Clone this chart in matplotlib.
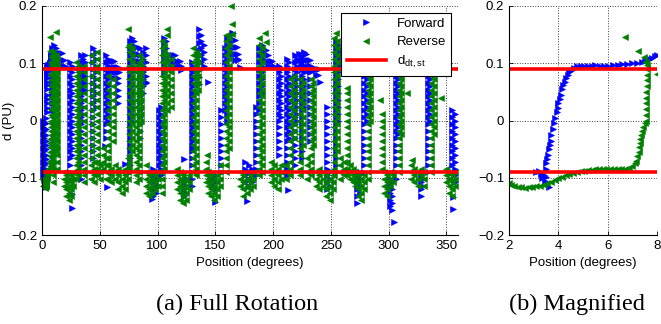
import matplotlib.pyplot as plt

# Forward sweep (blue): vertical runs of samples, (position, [d values])
fwd_cols = [
    (0.6, [0.0, -0.012, -0.024, -0.036, -0.048, -0.06, -0.072, -0.084, -0.096]),
    (1.8, [-0.006, -0.018, -0.03, -0.042, -0.054, -0.066, -0.078, -0.09, -0.102]),
    (8.8, [0.126, 0.114, 0.102, 0.09, 0.078, 0.066, 0.054, 0.042, 0.03, 0.018]),
    (10.3, [0.132, 0.12, 0.108, 0.096, 0.084, 0.072, 0.06, 0.048, 0.036, 0.024, 0.012]),
    (11.8, [0.126, 0.114, 0.102, 0.09, 0.078, 0.066]),
    (24.5, [0.102, 0.09, 0.078, 0.066, 0.054, 0.042, 0.03, 0.018, 0.006, -0.006, -0.018, -0.03, -0.042, -0.054, -0.066, -0.078, -0.09]),
    (26.0, [0.096, 0.084, 0.072, 0.06, 0.048, 0.036, 0.024, 0.012, 0.0, -0.012, -0.024, -0.036, -0.048, -0.06]),
    (34.0, [0.114, 0.102, 0.09, 0.078, 0.066, 0.054, 0.042, 0.03, 0.018, 0.006, -0.006, -0.018, -0.03, -0.042, -0.054, -0.066, -0.078, -0.09, -0.102]),
    (35.5, [0.108, 0.096, 0.084, 0.072, 0.06, 0.048, 0.036, 0.024, 0.012, 0.0]),
    (37.5, [0.114, 0.102, 0.09, 0.078, 0.066, 0.054]),
    (44.5, [0.126, 0.114, 0.102, 0.09, 0.078, 0.066, 0.054, 0.042, 0.03, 0.018, 0.006, -0.006, -0.018, -0.03, -0.042, -0.054, -0.066]),
    (46.5, [0.12, 0.108, 0.096, 0.084, 0.072, 0.06, 0.048, 0.036, 0.024]),
    (55.0, [0.114, 0.102, 0.09, 0.078, 0.066, 0.054, 0.042, 0.03, 0.018, 0.006, -0.006, -0.018, -0.03]),
    (57.0, [0.108, 0.096, 0.084, 0.072, 0.06, 0.048, 0.036, 0.024, 0.012, 0.0]),
    (65.5, [0.066, 0.054, 0.042, 0.03]),
    (76.0, [0.138, 0.126, 0.114, 0.102, 0.09, 0.078, 0.066, 0.054, 0.042, 0.03, 0.018, 0.006, -0.006, -0.018, -0.03, -0.042, -0.054, -0.066, -0.078, -0.09]),
    (78.0, [0.144, 0.132, 0.12, 0.108, 0.096, 0.084, 0.072, 0.06, 0.048, 0.036, 0.024, 0.012, 0.0]),
    (85.0, [0.126, 0.114, 0.102, 0.09, 0.078, 0.066, 0.054, 0.042, 0.03, 0.018, 0.006, -0.006, -0.018, -0.03]),
    (87.0, [0.12, 0.108, 0.096, 0.084, 0.072, 0.06, 0.048]),
    (90.0, [0.126, 0.114, 0.102, 0.09, 0.078, 0.066]),
    (96.0, [-0.084, -0.096, -0.108, -0.12, -0.132]),
    (98.5, [-0.09, -0.102, -0.114, -0.126]),
    (101.0, [0.018, 0.006, -0.006, -0.018, -0.03, -0.042, -0.054, -0.066, -0.078, -0.09, -0.102, -0.114]),
    (103.0, [0.024, 0.012, 0.0, -0.012, -0.024, -0.036, -0.048, -0.06, -0.072, -0.084, -0.096]),
    (106.0, [0.144, 0.132, 0.12, 0.108, 0.096, 0.084]),
    (107.5, [0.138, 0.126, 0.114, 0.102, 0.09]),
    (123.0, [-0.108, -0.12, -0.132]),
    (125.0, [-0.102, -0.114, -0.126]),
    (129.5, [0.102, 0.09, 0.078, 0.066, 0.054, 0.042, 0.03, 0.018, 0.006, -0.006, -0.018, -0.03, -0.042, -0.054, -0.066, -0.078, -0.09, -0.102, -0.114]),
    (131.0, [0.096, 0.084, 0.072, 0.06, 0.048, 0.036, 0.024, 0.012, 0.0, -0.012, -0.024, -0.036, -0.048]),
    (136.0, [0.16, 0.148, 0.136, 0.124, 0.112, 0.1, 0.088, 0.076, 0.064]),
    (138.0, [0.15, 0.138, 0.126, 0.114, 0.102, 0.09]),
    (140.5, [0.132, 0.12, 0.108, 0.096]),
    (147.0, [-0.09, -0.102, -0.114]),
    (150.0, [-0.096, -0.108, -0.12]),
    (155.0, [0.018, 0.006, -0.006, -0.018, -0.03, -0.042, -0.054, -0.066, -0.078, -0.09]),
    (158.5, [0.126, 0.114, 0.102, 0.09, 0.078, 0.066, 0.054, 0.042, 0.03, 0.018]),
    (160.0, [0.144, 0.132, 0.12, 0.108, 0.096, 0.084, 0.072, 0.06, 0.048, 0.036, 0.024, 0.012, 0.0]),
    (176.0, [-0.072, -0.084, -0.096, -0.108]),
    (179.0, [-0.078, -0.09, -0.102, -0.114]),
    (182.0, [-0.084, -0.096, -0.108]),
    (185.0, [0.024, 0.012, 0.0, -0.012, -0.024, -0.036, -0.048, -0.06, -0.072, -0.084, -0.096]),
    (188.0, [0.126, 0.114, 0.102, 0.09, 0.078, 0.066, 0.054, 0.042, 0.03, 0.018]),
    (190.0, [0.132, 0.12, 0.108, 0.096, 0.084, 0.072, 0.06, 0.048]),
    (205.0, [0.096, 0.084, 0.072, 0.06, 0.048, 0.036, 0.024, 0.012, 0.0, -0.012, -0.024, -0.036, -0.048, -0.06]),
    (206.5, [0.09, 0.078, 0.066, 0.054, 0.042, 0.03, 0.018, 0.006]),
    (212.0, [0.108, 0.096, 0.084, 0.072, 0.06, 0.048, 0.036, 0.024, 0.012, 0.0, -0.012, -0.024, -0.036, -0.048, -0.06, -0.072, -0.084, -0.096]),
    (213.5, [0.102, 0.09, 0.078, 0.066, 0.054, 0.042, 0.03, 0.018, 0.006, -0.006, -0.018, -0.03]),
    (219.0, [0.114, 0.102, 0.09, 0.078, 0.066, 0.054, 0.042, 0.03, 0.018, 0.006, -0.006, -0.018, -0.03, -0.042, -0.054, -0.066, -0.078]),
    (221.0, [0.108, 0.096, 0.084, 0.072, 0.06, 0.048, 0.036, 0.024, 0.012, 0.0]),
    (225.0, [0.114, 0.102, 0.09, 0.078, 0.066, 0.054, 0.042, 0.03, 0.018, 0.006, -0.006, -0.018, -0.03, -0.042, -0.054, -0.066]),
    (227.0, [0.12, 0.108, 0.096, 0.084, 0.072, 0.06, 0.048, 0.036, 0.024]),
    (231.5, [0.096, 0.084, 0.072, 0.06, 0.048, 0.036, 0.024, 0.012, 0.0, -0.012, -0.024, -0.036]),
    (247.0, [0.024, 0.012, 0.0, -0.012, -0.024, -0.036, -0.048, -0.06, -0.072, -0.084, -0.096, -0.108, -0.12]),
    (249.0, [-0.09, -0.102, -0.114]),
    (254.5, [0.138, 0.126, 0.114, 0.102, 0.09, 0.078, 0.066, 0.054, 0.042, 0.03, 0.018, 0.006, -0.006, -0.018, -0.03, -0.042, -0.054, -0.066, -0.078, -0.09]),
    (256.5, [0.132, 0.12, 0.108, 0.096, 0.084, 0.072, 0.06, 0.048, 0.036, 0.024, 0.012, 0.0]),
    (273.0, [-0.096, -0.108, -0.12, -0.132, -0.144]),
    (275.0, [-0.09, -0.102, -0.114, -0.126]),
    (279.0, [0.114, 0.102, 0.09, 0.078, 0.066, 0.054, 0.042, 0.03, 0.018, 0.006, -0.006, -0.018, -0.03, -0.042, -0.054, -0.066, -0.078, -0.09]),
    (281.0, [0.12, 0.108, 0.096, 0.084, 0.072, 0.06, 0.048, 0.036, 0.024, 0.012, 0.0]),
    (301.0, [-0.102, -0.114, -0.126, -0.138, -0.15]),
    (303.0, [-0.108, -0.12, -0.132, -0.144, -0.156]),
    (306.0, [0.114, 0.102, 0.09, 0.078, 0.066, 0.054, 0.042, 0.03, 0.018, 0.006, -0.006, -0.018, -0.03, -0.042, -0.054, -0.066, -0.078, -0.09, -0.102]),
    (308.0, [0.108, 0.096, 0.084, 0.072, 0.06, 0.048, 0.036, 0.024, 0.012, 0.0, -0.012, -0.024]),
    (328.0, [-0.096, -0.108, -0.12, -0.132]),
    (330.0, [-0.09, -0.102, -0.114]),
    (334.0, [0.114, 0.102, 0.09, 0.078, 0.066, 0.054, 0.042, 0.03, 0.018, 0.006, -0.006, -0.018, -0.03, -0.042, -0.054, -0.066, -0.078, -0.09]),
    (336.0, [0.12, 0.108, 0.096, 0.084, 0.072, 0.06, 0.048, 0.036, 0.024, 0.012, 0.0]),
    (355.0, [0.018, 0.006, -0.006, -0.018, -0.03, -0.042, -0.054, -0.066, -0.078, -0.09]),
    (357.0, [0.012, 0.0, -0.012, -0.024, -0.036, -0.048, -0.06, -0.072, -0.084, -0.096, -0.108]),
]

# Forward sweep: horizontal runs near the peaks, (d, [positions])
fwd_rows = [
    (0.118, [13, 14.5, 16, 17.5]),
    (0.106, [13, 14.5, 16, 17.5, 19]),
    (0.096, [15, 18.5, 20]),
    (0.104, [58.5, 60.5, 62.5]),
    (0.094, [58, 60, 62, 64, 66]),
    (0.084, [59, 61, 63, 65, 67]),
    (0.074, [62, 64, 66]),
    (0.138, [79.5]),
    (0.128, [79, 80.5, 82]),
    (0.116, [80, 81.5, 83]),
    (0.104, [82, 84]),
    (0.114, [109.5, 111.5, 113.5, 115.5]),
    (0.104, [109, 111, 113, 115, 117, 119]),
    (0.095, [112, 115, 118, 120.5]),
    (0.152, [164, 165.5]),
    (0.14, [162.5, 164, 165.5, 167]),
    (0.128, [163, 165, 167, 168.5]),
    (0.116, [164, 166, 168, 169.5]),
    (0.106, [167, 169.5]),
    (0.124, [191.5, 193.5]),
    (0.114, [192, 194, 196]),
    (0.104, [193, 195, 197, 199]),
    (0.096, [196, 198, 200.5]),
    (0.116, [222.5, 224.5, 226.5, 228.5]),
    (0.106, [222, 224, 226, 228, 230, 232]),
    (0.096, [224, 228, 230, 232.5]),
    (0.086, [229, 231.5, 233.5]),
    (0.09, [236, 238, 240]),
    (0.08, [237, 239]),
    (0.124, [258, 260]),
    (0.112, [258.5, 260.5, 262.5]),
    (0.1, [259, 261, 263]),
    (0.086, [261.5, 263.5]),
]

# Forward sweep: isolated samples
fwd_pts_x = [25.7, 26.3, 54.5, 56.0, 71.8, 89.7, 95.5, 120.0, 122.5, 144.0,
             149.7, 170.0, 171.0, 177.5, 213.0, 240.5, 304.5, 356.0, 356.0]
fwd_pts_y = [-0.129, -0.153, -0.044, -0.117, -0.076, 0.067, -0.137, 0.088, -0.067, 0.067,
             -0.143, 0.108, 0.094, -0.141, -0.122, 0.067, -0.177, -0.134, -0.155]

# Forward sweep between 3 and 8 degrees (seen in the magnified panel)
mag_fwd_x = [3.1, 3.2, 3.3, 3.35, 3.4, 3.45, 3.5, 3.64,
             3.5, 3.52, 3.55, 3.6, 3.62, 3.65, 3.7, 3.72, 3.78, 3.82, 3.88, 3.93,
             3.98, 4.0, 4.05, 4.1, 4.13, 4.2, 4.25, 4.3, 4.4, 4.45, 4.55, 4.65,
             4.75, 4.9, 5.05, 5.2, 5.35, 5.5, 5.7, 5.85, 6.0, 6.2, 6.4, 6.6, 6.8,
             7.0, 7.2, 7.4, 7.5, 7.6, 7.7, 7.8, 7.9, 8.0]
mag_fwd_y = [-0.09, -0.088, -0.094, -0.1, -0.096, -0.105, -0.098, -0.117,
             -0.085, -0.075, -0.068, -0.06, -0.05, -0.042, -0.035, -0.025, -0.015, -0.005, 0.005, 0.015,
             0.022, 0.03, 0.038, 0.045, 0.055, 0.062, 0.068, 0.075, 0.08, 0.085, 0.088, 0.092,
             0.095, 0.096, 0.095, 0.096, 0.095, 0.097, 0.096, 0.095, 0.096, 0.097, 0.097, 0.098, 0.099,
             0.1, 0.101, 0.103, 0.104, 0.106, 0.108, 0.11, 0.112, 0.114]

# Reverse sweep (green): vertical runs, (position, [d values])
rev_cols = [
    (8.3, [0.114, 0.102, 0.09, 0.078, 0.066, 0.054, 0.042, 0.03, 0.018, 0.006, -0.006, -0.018, -0.03, -0.042, -0.054, -0.066, -0.078]),
    (9.6, [0.12, 0.108, 0.096, 0.084, 0.072, 0.06, 0.048, 0.036, 0.024, 0.012, 0.0, -0.012, -0.024, -0.036, -0.048, -0.06, -0.072, -0.084, -0.096, -0.108]),
    (12.0, [0.114, 0.102, 0.09, 0.078, 0.066, 0.054, 0.042, 0.03, 0.018, 0.006, -0.006, -0.018, -0.03, -0.042, -0.054]),
    (13.3, [0.108, 0.096, 0.084, 0.072, 0.06, 0.048, 0.036, 0.024, 0.012, 0.0, -0.012, -0.024, -0.036, -0.048, -0.06, -0.072, -0.084]),
    (19.0, [-0.09, -0.102, -0.114]),
    (21.0, [-0.096, -0.108, -0.12, -0.132]),
    (23.0, [-0.102, -0.114, -0.126, -0.138]),
    (25.0, [-0.096, -0.108, -0.12, -0.132]),
    (27.0, [-0.09, -0.102, -0.114]),
    (29.5, [0.102, 0.09, 0.078, 0.066, 0.054, 0.042, 0.03, 0.018, 0.006, -0.006, -0.018, -0.03, -0.042, -0.054, -0.066, -0.078, -0.09, -0.102]),
    (31.0, [0.096, 0.084, 0.072, 0.06, 0.048, 0.036, 0.024, 0.012, 0.0, -0.012, -0.024, -0.036, -0.048, -0.06, -0.072, -0.084, -0.096]),
    (36.0, [0.096, 0.084, 0.072, 0.06, 0.048, 0.036, 0.024, 0.012, 0.0, -0.012, -0.024, -0.036, -0.048, -0.06, -0.072, -0.084, -0.096, -0.108]),
    (42.5, [0.114, 0.102, 0.09, 0.078, 0.066, 0.054, 0.042, 0.03, 0.018, 0.006, -0.006, -0.018, -0.03, -0.042, -0.054, -0.066, -0.078, -0.09, -0.102]),
    (45.0, [-0.072, -0.084, -0.096, -0.108]),
    (48.0, [0.12, 0.108, 0.096, 0.084, 0.072, 0.06, 0.048, 0.036, 0.024, 0.012, 0.0, -0.012, -0.024, -0.036, -0.048, -0.06, -0.072, -0.084, -0.096]),
    (50.0, [-0.078, -0.09, -0.102]),
    (53.0, [-0.048, -0.06, -0.072, -0.084]),
    (55.5, [-0.066, -0.078, -0.09, -0.102]),
    (57.5, [0.078, 0.066, 0.054, 0.042, 0.03, 0.018, 0.006, -0.006, -0.018, -0.03, -0.042, -0.054, -0.066, -0.078, -0.09, -0.102]),
    (60.0, [-0.084, -0.096, -0.108]),
    (61.5, [0.072, 0.06, 0.048, 0.036, 0.024, 0.012, 0.0, -0.012, -0.024, -0.036]),
    (63.0, [-0.078, -0.09, -0.102]),
    (66.0, [-0.084, -0.096, -0.108, -0.12]),
    (69.0, [-0.09, -0.102, -0.114, -0.126]),
    (72.0, [-0.084, -0.096, -0.108, -0.12]),
    (74.5, [-0.066, -0.078, -0.09, -0.102]),
    (75.5, [0.132, 0.12, 0.108, 0.096, 0.084, 0.072, 0.06, 0.048, 0.036, 0.024, 0.012, 0.0, -0.012, -0.024, -0.036, -0.048, -0.06, -0.072, -0.084]),
    (77.5, [0.126, 0.114, 0.102, 0.09, 0.078, 0.066, 0.054, 0.042, 0.03, 0.018, 0.006, -0.006, -0.018, -0.03, -0.042, -0.054]),
    (81.0, [0.096, 0.084, 0.072, 0.06, 0.048, 0.036, 0.024, 0.012, 0.0, -0.012, -0.024, -0.036, -0.048, -0.06, -0.072, -0.084, -0.096, -0.108]),
    (84.0, [0.114, 0.102, 0.09, 0.078, 0.066, 0.054, 0.042, 0.03, 0.018, 0.006, -0.006, -0.018, -0.03, -0.042, -0.054, -0.066, -0.078, -0.09, -0.102]),
    (86.0, [0.108, 0.096, 0.084, 0.072, 0.06, 0.048, 0.036, 0.024, 0.012, 0.0]),
    (90.0, [-0.078, -0.09, -0.102, -0.114, -0.126]),
    (92.5, [-0.096, -0.108, -0.12, -0.132]),
    (95.0, [-0.09, -0.102, -0.114, -0.126]),
    (98.0, [-0.096, -0.108, -0.12]),
    (100.0, [-0.09, -0.102, -0.114]),
    (103.5, [0.138, 0.126, 0.114, 0.102, 0.09, 0.078, 0.066, 0.054, 0.042, 0.03, 0.018, 0.006, -0.006, -0.018, -0.03, -0.042, -0.054, -0.066, -0.078, -0.09, -0.102, -0.114, -0.126]),
    (105.5, [0.132, 0.12, 0.108, 0.096, 0.084, 0.072, 0.06, 0.048, 0.036, 0.024, 0.012, 0.0, -0.012, -0.024, -0.036, -0.048, -0.06, -0.072, -0.084]),
    (108.5, [0.114, 0.102, 0.09, 0.078, 0.066, 0.054, 0.042, 0.03, 0.018]),
    (111.5, [0.108, 0.096, 0.084, 0.072, 0.06, 0.048, 0.036, 0.024]),
    (117.0, [-0.084, -0.096, -0.108, -0.12]),
    (119.5, [-0.09, -0.102, -0.114, -0.126, -0.138]),
    (122.0, [-0.096, -0.108, -0.12, -0.132, -0.144]),
    (124.5, [-0.102, -0.114, -0.126, -0.138]),
    (127.0, [-0.096, -0.108, -0.12]),
    (131.0, [0.126, 0.114, 0.102, 0.09, 0.078, 0.066, 0.054, 0.042, 0.03, 0.018, 0.006, -0.006, -0.018, -0.03, -0.042, -0.054, -0.066, -0.078, -0.09]),
    (133.0, [0.12, 0.108, 0.096, 0.084, 0.072, 0.06, 0.048, 0.036, 0.024, 0.012, 0.0, -0.012, -0.024, -0.036, -0.048, -0.06, -0.072, -0.084, -0.096]),
    (135.0, [0.114, 0.102, 0.09, 0.078, 0.066, 0.054]),
    (141.5, [-0.072, -0.084, -0.096, -0.108]),
    (144.0, [-0.09, -0.102, -0.114, -0.126]),
    (146.5, [-0.096, -0.108, -0.12, -0.132]),
    (149.0, [-0.102, -0.114, -0.126, -0.138]),
    (151.5, [-0.096, -0.108, -0.12, -0.132]),
    (154.0, [-0.078, -0.09, -0.102, -0.114]),
    (159.5, [0.15, 0.138, 0.126, 0.114, 0.102, 0.09, 0.078, 0.066, 0.054, 0.042, 0.03, 0.018, 0.006, -0.006, -0.018, -0.03, -0.042, -0.054, -0.066, -0.078, -0.09]),
    (161.5, [0.144, 0.132, 0.12, 0.108, 0.096, 0.084, 0.072, 0.06, 0.048, 0.036, 0.024, 0.012, 0.0, -0.012, -0.024, -0.036, -0.048]),
    (171.0, [-0.09, -0.102, -0.114]),
    (174.0, [-0.096, -0.108, -0.12, -0.132]),
    (177.0, [-0.102, -0.114, -0.126]),
    (180.0, [-0.096, -0.108, -0.12]),
    (183.0, [-0.09, -0.102, -0.114]),
    (188.0, [0.144, 0.132, 0.12, 0.108, 0.096, 0.084, 0.072, 0.06, 0.048, 0.036, 0.024, 0.012, 0.0, -0.012, -0.024, -0.036, -0.048, -0.06, -0.072, -0.084, -0.096]),
    (190.5, [0.126, 0.114, 0.102, 0.09, 0.078, 0.066, 0.054, 0.042, 0.03, 0.018, 0.006, -0.006, -0.018, -0.03, -0.042, -0.054, -0.066, -0.078, -0.09]),
    (198.0, [-0.072, -0.084, -0.096, -0.108]),
    (201.0, [-0.078, -0.09, -0.102, -0.114]),
    (204.0, [-0.084, -0.096, -0.108, -0.12]),
    (207.0, [-0.078, -0.09, -0.102]),
    (211.0, [-0.078, -0.09, -0.102]),
    (215.0, [0.072, 0.06, 0.048, 0.036, 0.024, 0.012, 0.0, -0.012, -0.024, -0.036, -0.048, -0.06, -0.072, -0.084, -0.096]),
    (218.5, [0.078, 0.066, 0.054, 0.042, 0.03, 0.018, 0.006, -0.006, -0.018, -0.03]),
    (223.0, [0.072, 0.06, 0.048, 0.036, 0.024, 0.012, 0.0, -0.012, -0.024, -0.036, -0.048, -0.06, -0.072, -0.084, -0.096]),
    (226.0, [0.066, 0.054, 0.042, 0.03, 0.018, 0.006, -0.006, -0.018, -0.03, -0.042]),
    (229.0, [-0.066, -0.078, -0.09, -0.102]),
    (232.5, [0.072, 0.06, 0.048, 0.036, 0.024, 0.012, 0.0, -0.012, -0.024, -0.036, -0.048, -0.06, -0.072, -0.084, -0.096]),
    (234.5, [0.066, 0.054, 0.042, 0.03, 0.018, 0.006, -0.006, -0.018, -0.03, -0.042]),
    (237.5, [-0.09, -0.102, -0.114]),
    (240.0, [-0.084, -0.096, -0.108, -0.12]),
    (243.0, [-0.09, -0.102, -0.114]),
    (246.0, [-0.096, -0.108, -0.12, -0.132]),
    (249.5, [-0.102, -0.114, -0.126, -0.138]),
    (251.5, [-0.096, -0.108, -0.12]),
    (253.0, [0.144, 0.132, 0.12, 0.108, 0.096, 0.084, 0.072, 0.06, 0.048, 0.036, 0.024, 0.012, 0.0, -0.012, -0.024, -0.036, -0.048, -0.06, -0.072, -0.084, -0.096]),
    (255.0, [0.138, 0.126, 0.114, 0.102, 0.09, 0.078, 0.066, 0.054, 0.042, 0.03, 0.018, 0.006, -0.006, -0.018, -0.03, -0.042, -0.054]),
    (258.0, [-0.066, -0.078, -0.09, -0.102]),
    (261.0, [-0.072, -0.084, -0.096]),
    (264.0, [0.048, 0.036, 0.024, 0.012, 0.0, -0.012, -0.024, -0.036, -0.048, -0.06, -0.072, -0.084, -0.096]),
    (266.5, [-0.078, -0.09, -0.102]),
    (269.0, [-0.084, -0.096, -0.108]),
    (271.0, [-0.09, -0.102, -0.114]),
    (273.5, [-0.096, -0.108, -0.12, -0.132]),
    (276.0, [-0.102, -0.114, -0.126, -0.138]),
    (279.0, [-0.096, -0.108, -0.12]),
    (282.5, [0.114, 0.102, 0.09, 0.078, 0.066, 0.054, 0.042, 0.03, 0.018, 0.006, -0.006, -0.018, -0.03, -0.042, -0.054, -0.066, -0.078, -0.09, -0.102]),
    (284.0, [0.096, 0.084, 0.072, 0.06, 0.048, 0.036, 0.024, 0.012, 0.0]),
    (294.0, [0.012, 0.0, -0.012, -0.024, -0.036, -0.048, -0.06, -0.072, -0.084]),
    (296.0, [-0.09, -0.102, -0.114, -0.126]),
    (298.5, [-0.096, -0.108, -0.12, -0.132]),
    (301.0, [-0.09, -0.102, -0.114]),
    (303.5, [-0.096, -0.108]),
    (309.0, [0.114, 0.102, 0.09, 0.078, 0.066, 0.054, 0.042, 0.03, 0.018, 0.006, -0.006, -0.018, -0.03, -0.042, -0.054, -0.066, -0.078, -0.09]),
    (311.0, [0.096, 0.084, 0.072, 0.06, 0.048, 0.036, 0.024, 0.012, 0.0, -0.012, -0.024]),
    (319.0, [-0.078, -0.09, -0.102]),
    (322.0, [-0.084, -0.096, -0.108]),
    (325.0, [-0.09, -0.102, -0.114]),
    (328.0, [-0.084, -0.096]),
    (331.0, [-0.09, -0.102, -0.114]),
    (337.0, [0.114, 0.102, 0.09, 0.078, 0.066, 0.054, 0.042, 0.03, 0.018, 0.006, -0.006, -0.018, -0.03, -0.042, -0.054, -0.066, -0.078, -0.09]),
    (339.0, [0.096, 0.084, 0.072, 0.06, 0.048, 0.036, 0.024, 0.012, 0.0, -0.012, -0.024]),
    (349.5, [-0.084, -0.096, -0.108]),
    (352.0, [-0.09, -0.102, -0.114, -0.126]),
    (354.5, [-0.096, -0.108, -0.12, -0.132]),
    (357.0, [-0.09, -0.102, -0.114]),
]

rev_rows = [
    (-0.102, [0.3, 1.3]),
    (-0.114, [0.6, 1.6]),
]

rev_pts_x = [12.0, 74.7, 74.7, 108.0, 108.0, 142.5, 163.5, 164.5, 164.5,
             193.0, 193.5, 254.4, 263.7, 292.8, 316.0, 320.5, 345.5]
rev_pts_y = [0.155, 0.16, 0.129, 0.159, 0.149, -0.06, 0.2, 0.168, 0.151,
             0.152, 0.137, 0.152, 0.057, 0.035, 0.048, -0.069, 0.04]

# Reverse sweep between 2 and 8 degrees
mag_rev_x = [2.0, 2.1, 2.2, 2.35, 2.5, 2.65, 2.8, 2.95, 3.1, 3.25, 3.4,
             3.55, 3.7, 3.85, 4.0, 4.15, 4.3, 4.45, 4.6, 4.75, 4.9, 5.05, 5.2,
             5.35, 5.5, 5.65, 5.8, 5.95, 6.1, 6.25, 6.4, 6.55, 6.7, 6.85, 7.0,
             7.1, 7.15, 7.2, 7.25, 7.28, 7.3, 7.33, 7.36, 7.4, 7.45, 7.5, 7.55,
             7.55, 7.56, 7.56, 7.57, 7.57, 7.58, 7.58, 7.59, 7.6, 7.6, 7.55,
             6.7, 7.24, 7.47, 7.5, 8.0]
mag_rev_y = [-0.11, -0.112, -0.115, -0.117, -0.116, -0.118, -0.117, -0.116, -0.115, -0.114, -0.112,
             -0.11, -0.107, -0.104, -0.101, -0.098, -0.096, -0.094, -0.092, -0.09, -0.089, -0.088, -0.087,
             -0.086, -0.085, -0.085, -0.084, -0.085, -0.085, -0.084, -0.085, -0.084, -0.084, -0.083, -0.08,
             -0.075, -0.07, -0.062, -0.055, -0.047, -0.04, -0.032, -0.025, -0.018, -0.012, -0.005, 0.0,
             0.01, 0.02, 0.03, 0.04, 0.05, 0.06, 0.07, 0.08, 0.09, 0.097, 0.103,
             0.146, 0.121, 0.111, 0.102, 0.081]

d_dt_st = 0.09
y_ticks = [-0.2, -0.1, 0, 0.1, 0.2]
y_tick_labels = ['\u22120.2', '\u22120.1', '0', '0.1', '0.2']


def gather(cols, rows, px, py, mx, my):
    xs, ys = [], []
    for x, dl in cols:
        xs += [x] * len(dl)
        ys += dl
    for y, xl in rows:
        xs += xl
        ys += [y] * len(xl)
    return xs + px + mx, ys + py + my


fx, fy = gather(fwd_cols, fwd_rows, fwd_pts_x, fwd_pts_y, mag_fwd_x, mag_fwd_y)
rx, ry = gather(rev_cols, rev_rows, rev_pts_x, rev_pts_y, mag_rev_x, mag_rev_y)

plt.rcParams['font.family'] = ['Liberation Sans', 'DejaVu Sans']
plt.rcParams['mathtext.fontset'] = 'custom'
plt.rcParams['mathtext.rm'] = 'Liberation Sans'

blue = (0, 0, 1)
green = (0, 0.5, 0)

fig = plt.figure(figsize=(6.61, 3.24), dpi=100)
ax1 = fig.add_axes([42 / 661, 89 / 324, 416 / 661, 229 / 324])
ax2 = fig.add_axes([509 / 661, 89 / 324, 148 / 661, 229 / 324])

for ax, clip in ((ax1, False), (ax2, True)):
    ax.plot(fx, fy, linestyle='none', marker='>', ms=4, color=blue,
            mec=blue, mew=0.4, label='Forward', clip_on=clip)
    ax.plot(rx, ry, linestyle='none', marker='<', ms=4, color=green,
            mec=green, mew=0.4, label='Reverse', clip_on=clip)
    ax.axhline(d_dt_st, color='red', lw=2.6, label=r'$\mathregular{d_{dt,st}}$')
    ax.axhline(-d_dt_st, color='red', lw=2.6)
    ax.set_ylim(-0.2, 0.2)
    ax.set_yticks(y_ticks)
    ax.set_yticklabels(y_tick_labels)
    ax.grid(True, linestyle=':', color='0.25', lw=0.7)
    ax.set_axisbelow(True)
    for s in ('top', 'right'):
        ax.spines[s].set_visible(False)
    for s in ('left', 'bottom'):
        ax.spines[s].set_linewidth(0.8)
    ax.tick_params(direction='in', length=3, labelsize=9.5, width=0.6)
    ax.set_xlabel('Position (degrees)', fontsize=9.5, labelpad=4)

ax1.set_xlim(0, 360)
ax1.set_xticks(range(0, 360, 50))
ax1.set_ylabel('d (PU)', fontsize=9.5)
ax1.yaxis.set_label_coords(-0.066, 0.5)
ax2.set_xlim(2, 8)
ax2.set_xticks([2, 4, 6, 8])

leg = ax1.legend(loc='upper right', fontsize=9.5, numpoints=1, handlelength=3,
                 fancybox=False, framealpha=1, edgecolor='black',
                 borderaxespad=0.5, labelspacing=0.45, markerscale=1.2)
leg.get_frame().set_linewidth(0.8)

fig.text(237 / 661, 20 / 324, '(a) Full Rotation', family='Liberation Serif',
         fontsize=17.5, ha='center', va='center')
fig.text(577 / 661, 20 / 324, '(b) Magnified', family='Liberation Serif',
         fontsize=17.5, ha='center', va='center')

fig.savefig('out.png', dpi=100)
